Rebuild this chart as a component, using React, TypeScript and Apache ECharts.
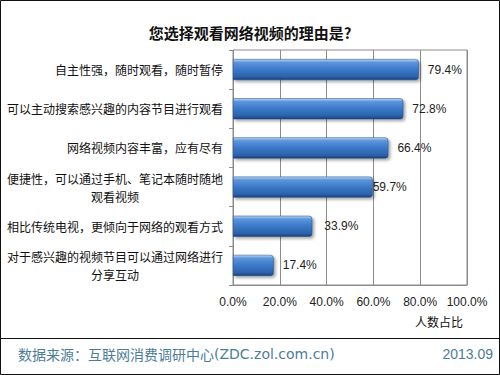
import React, { useEffect, useRef } from "react";
import * as echarts from "echarts";

const title = "您选择观看网络视频的理由是?";
const categories = [
  "自主性强，随时观看，随时暂停",
  "可以主动搜索感兴趣的内容节目进行观看",
  "网络视频内容丰富，应有尽有",
  "便捷性，可以通过手机、笔记本随时随地\n观看视频",
  "相比传统电视，更倾向于网络的观看方式",
  "对于感兴趣的视频节目可以通过网络进行\n分享互动",
];
const values = [79.4, 72.8, 66.4, 59.7, 33.9, 17.4];
const xTicks = [0, 20, 40, 60, 80, 100];
const axisName = "人数占比";
const sourceLabel = "数据来源：互联网消费调研中心";
const sourceSite = "(ZDC.zol.com.cn)";
const dateText = "2013.09";

const labelGaps = [9, 9, 9, 0, 12, 9];

export default function App() {
  const ref = useRef<HTMLDivElement>(null);
  useEffect(() => {
    if (!ref.current) return;
    const chart = echarts.init(ref.current, null, { renderer: "svg" });
    const barColor = new echarts.graphic.LinearGradient(0, 0, 0, 1, [
      { offset: 0, color: "#bcd6f4" },
      { offset: 0.15, color: "#5b96dc" },
      { offset: 0.5, color: "#3b78c8" },
      { offset: 0.85, color: "#2b62ab" },
      { offset: 1, color: "#1c3f74" },
    ]);
    chart.setOption({
      animation: false,
      backgroundColor: "#ffffff",
      textStyle: { fontFamily: "Liberation Sans, Noto Sans CJK SC, sans-serif" },
      title: {
        text: title,
        left: "center",
        top: 20,
        textStyle: {
          fontSize: 15,
          fontWeight: "bold",
          color: "#111",
          fontFamily: "Noto Sans CJK SC, sans-serif",
        },
      },
      grid: {
        left: 233,
        right: 33,
        top: 50,
        bottom: 90,
        show: true,
        borderColor: "#8c8c8c",
        borderWidth: 1,
      },
      xAxis: {
        type: "value",
        min: xTicks[0],
        max: xTicks[xTicks.length - 1],
        interval: 20,
        axisLine: { show: true, lineStyle: { color: "#8c8c8c" } },
        axisTick: { show: false },
        splitLine: { show: true, lineStyle: { color: "#8c8c8c", width: 1 } },
        axisLabel: {
          margin: 11,
          fontSize: 12,
          color: "#222",
          formatter: (v: number) => `${v.toFixed(1)}%`,
        },
      },
      yAxis: {
        type: "category",
        inverse: true,
        data: categories,
        axisLine: { show: true, lineStyle: { color: "#8c8c8c" } },
        axisTick: { show: true, length: 4, lineStyle: { color: "#8c8c8c" } },
        axisLabel: {
          margin: 10,
          fontSize: 12,
          color: "#111",
          fontFamily: "Noto Sans CJK SC, sans-serif",
          lineHeight: 18,
          formatter: (v: string) => (v.includes("\n") ? `{c|${v}}` : v),
          rich: {
            c: {
              width: 216,
              align: "center",
              lineHeight: 18,
              fontSize: 12,
              color: "#111",
              fontFamily: "Noto Sans CJK SC, sans-serif",
            },
          },
        },
      },
      series: [
        {
          type: "bar",
          barWidth: 21,
          data: values.map((v, i) => ({
            value: v,
            label: { distance: labelGaps[i] },
          })),
          itemStyle: {
            color: barColor,
            borderColor: "#1f4a85",
            borderWidth: 0.5,
            borderRadius: [0, 3, 3, 0],
            shadowColor: "rgba(0,0,0,0.35)",
            shadowBlur: 3,
            shadowOffsetX: 2,
            shadowOffsetY: 2,
          },
          label: {
            show: true,
            position: "right",
            fontSize: 12,
            color: "#222",
            formatter: (p: any) => `${p.value.toFixed(1)}%`,
          },
        },
      ],
      graphic: [
        {
          type: "rect",
          shape: { x: 0.5, y: 0.5, width: 499, height: 374 },
          style: { fill: "none", stroke: "#111", lineWidth: 1 },
          silent: true,
        },
        {
          type: "line",
          shape: { x1: 0, y1: 338.5, x2: 500, y2: 338.5 },
          style: { stroke: "#111", lineWidth: 1 },
          silent: true,
        },
        {
          type: "text",
          left: 415,
          top: 315,
          style: {
            text: axisName,
            fontSize: 12,
            fill: "#111",
            fontFamily: "Noto Sans CJK SC, sans-serif",
          },
        },
        {
          type: "text",
          left: 18,
          top: 347,
          style: {
            text: `{a|${sourceLabel}}{b|${sourceSite}}`,
            rich: {
              a: {
                fontSize: 14,
                fill: "#4c7d98",
                color: "#4c7d98",
                fontFamily: "Noto Sans CJK SC, sans-serif",
              },
              b: {
                fontSize: 14,
                fill: "#4c7d98",
                color: "#4c7d98",
                fontFamily: "DejaVu Sans, sans-serif",
              },
            },
          },
        },
        {
          type: "text",
          right: 7,
          top: 347,
          style: {
            text: dateText,
            fontSize: 14,
            fill: "#4c7d98",
            fontFamily: "Liberation Sans, sans-serif",
          },
        },
      ],
    } as any);
    return () => chart.dispose();
  }, []);
  return (
    <div
      ref={ref}
      style={{ position: "absolute", left: 0, top: 0, width: 500, height: 375 }}
    />
  );
}
